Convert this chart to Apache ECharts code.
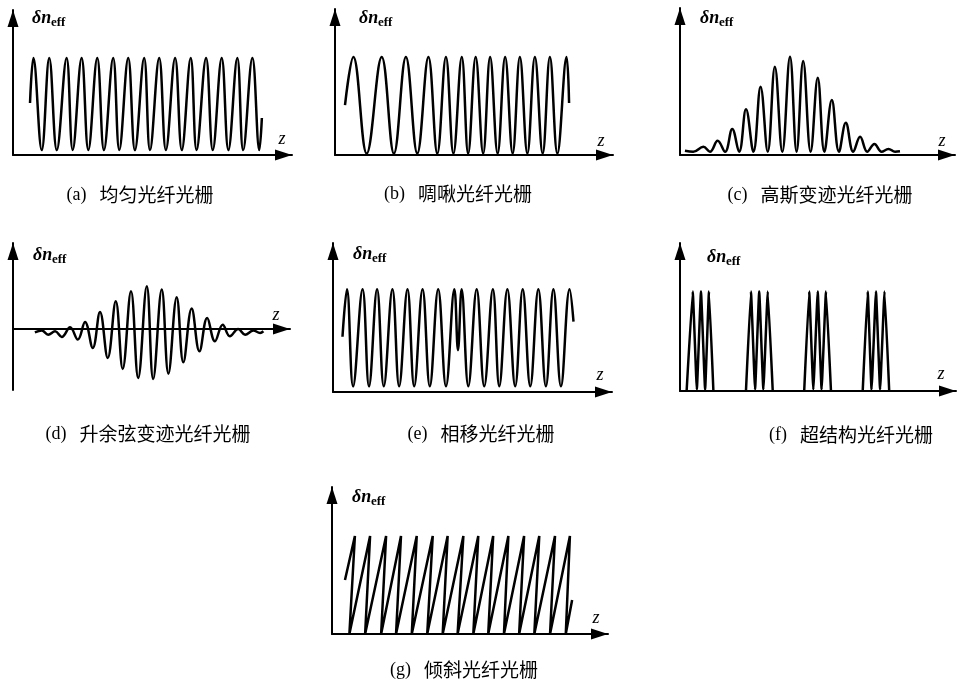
<!DOCTYPE html>
<html><head><meta charset="utf-8">
<script src="https://cdn.jsdelivr.net/npm/echarts@6/dist/echarts.min.js"></script>
<style>html,body{margin:0;padding:0;background:#fff}#c{width:958px;height:682px}</style>
</head><body><div id="c"></div>
<script>
// ---- data (z in % of axis length, δn in % of axis height) ----
const uniformZ = [6.1,7.3,10.3,13.0,15.7,19.2,21.4,24.6,27.0,30.2,32.6,35.9,38.1,41.3,43.7,47.0,49.1,52.4,54.8,58.1,60.5,63.7,65.8,69.2,71.6,74.8,77.2,80.4,82.5,85.8,88.3,89.2];
const uniformN = [35.9,66.9,3.4,66.9,3.4,66.9,3.4,66.9,3.4,66.9,3.4,66.9,3.4,66.9,3.4,66.9,3.4,66.9,3.4,66.9,3.4,66.9,3.4,66.9,3.4,66.9,3.4,66.9,3.4,66.9,3.4,25.5];

const chirpZ = [3.6,6.6,11.4,16.8,21.2,25.5,29.6,33.6,36.8,39.9,42.6,45.6,47.9,50.6,53.3,55.8,58.5,61.2,63.9,66.5,69.2,71.9,74.7,77.3,80.0,83.3,84.2];
const chirpN = [34.2,67.1,1,67.1,1,67.1,1,67.1,1,67.1,1,67.1,1,67.1,1,67.1,1,67.1,1,67.1,1,67.1,1,67.1,1,67.1,35.6];

const gaussZ = [1.8,4.8,8.5,10.9,13.7,16.4,19.0,21.5,24.0,26.7,29.3,31.9,34.5,37.2,40.0,42.4,44.8,47.5,50.1,52.5,55.2,57.8,60.3,63.0,65.5,68.1,70.7,73.3,75.8,78.2,80.0];
const gaussN = [2.9,2.2,5.6,2.2,9.7,2.2,17.7,2.2,31.1,2.2,46.5,2.2,60.1,2.2,66.9,2.2,63.9,2.2,52.6,2.2,37.4,2.2,22.0,2.2,12.4,2.2,7.5,2.2,4.1,2.2,2.5];

const cosZ = [7.9,10.4,12.7,15.2,17.6,20.6,23.4,26.0,28.8,31.4,34.2,37.1,39.6,42.6,45.2,48.3,50.6,53.7,56.1,59.1,61.5,64.5,67.3,70.1,72.9,75.7,78.3,81.3,83.8,86.8,89.2,90.4];
const cosN = [-3.9,-1.9,-6.6,-2.7,-9.3,1.9,-12.4,8.1,-22.1,19.8,-33.7,32.2,-46.5,43.8,-57.0,49.6,-58.2,45.8,-52.0,36.8,-38.8,23.7,-26.0,12.8,-14.3,5.0,-8.5,0,-6.6,-1.9,-4.7,-2.7];

const phaseZ = [3.4,5.0,7.2,10.6,12.9,15.8,18.2,21.3,23.7,26.7,29.1,32.1,34.7,37.7,40.5,43.5,44.8,46.1,48.5,51.5,54.2,57.3,59.6,62.5,65.3,68.0,70.7,73.6,76.3,79.0,81.7,84.8,86.2];
const phaseN = [37.1,69,3.8,69,3.8,69,3.8,69,3.8,69,3.8,69,3.8,69,3.8,69,28.1,69,3.8,69,3.8,69,3.8,69,3.8,69,3.8,69,3.8,69,3.8,69,47.2];

// null = gap between sampled sections
const superZ = [2.4,4.6,6.1,7.6,9.1,10.5,12.1,null,23.9,25.7,27.2,28.7,30.2,31.8,33.6,null,45.0,46.8,48.3,49.9,51.3,52.9,54.7,null,66.2,68.0,69.4,71.0,72.5,74.1,75.8];
const superN = [0,67.2,1,67.2,1,67.2,0,null,0,67.2,1,67.2,1,67.2,0,null,0,67.2,1,67.2,1,67.2,0,null,0,67.2,1,67.2,1,67.2,0];

const tiltZ = [4.7,8.3,6.3,13.8,12.0,19.6,17.8,25.0,23.2,30.7,28.9,36.5,34.5,41.9,40.1,47.6,45.5,53.0,51.2,58.4,56.6,63.9,62.3,69.6,67.8,75.1,73.3,80.8,79.0,86.2,84.7,87.0];
const tiltN = [36.7,66.7,0,66.7,0,66.7,0,66.7,0,66.7,0,66.7,0,66.7,0,66.7,0,66.7,0,66.7,0,66.7,0,66.7,0,66.7,0,66.7,0,66.7,0,23.1];

const captionTags = ['(a)','(b)','(c)','(d)','(e)','(f)','(g)'];
const captionTexts = ['均匀光纤光栅','啁啾光纤光栅','高斯变迹光纤光栅','升余弦变迹光纤光栅','相移光纤光栅','超结构光纤光栅','倾斜光纤光栅'];

// ---- layout ----
const panels = [
  {g:[13,10,279,145],  ymin:0, ymax:100, z:uniformZ, n:uniformN, smooth:0.4, cap:[140,195], lab:[32,27], zl:[282,139]},
  {g:[335,9,278,146],  ymin:0, ymax:100, z:chirpZ,   n:chirpN,   smooth:0.4, cap:[458,194], lab:[359,27], zl:[601,141]},
  {g:[680,8,275,147],  ymin:0, ymax:100, z:gaussZ,   n:gaussN,   smooth:0.4, cap:[820,195], lab:[700,27], zl:[942,141]},
  {g:[13,243,277,147], ymin:-71, ymax:100, z:cosZ,   n:cosN,     smooth:0.4, cap:[148,434], lab:[33,264], zl:[276,315]},
  {g:[333,243,279,149],ymin:0, ymax:100, z:phaseZ,   n:phaseN,   smooth:0.4, cap:[481,434], lab:[353,263], zl:[600,375]},
  {g:[680,243,276,148],ymin:0, ymax:100, z:superZ,   n:superN,   smooth:0.1, cap:[851,435], lab:[707,266], zl:[941,374]},
  {g:[332,487,276,147],ymin:0, ymax:100, z:tiltZ,    n:tiltN,    smooth:0.2, cap:[464,670], lab:[352,506], zl:[596,618]}
];

const AW = 11, AL = 17;
const axisLine = {show:true, onZero:true, symbol:['none','triangle'], symbolSize:[AW,AL], symbolOffset:[0,-AL/2],
  lineStyle:{color:'#000', width:2}};
const grid = [], xAxis = [], yAxis = [], series = [], graphic = [];
panels.forEach((p, i) => {
  grid.push({left:p.g[0], top:p.g[1], width:p.g[2], height:p.g[3], containLabel:false});
  xAxis.push({gridIndex:i, type:'value', min:0, max:100, axisLine:axisLine,
    axisTick:{show:false}, axisLabel:{show:false}, splitLine:{show:false}});
  yAxis.push({gridIndex:i, type:'value', min:p.ymin, max:p.ymax, axisLine:Object.assign({}, axisLine, {onZero:false}),
    axisTick:{show:false}, axisLabel:{show:false}, splitLine:{show:false}});
  series.push({type:'line', xAxisIndex:i, yAxisIndex:i,
    data:p.z.map((v, k) => (v === null ? '-' : [v, p.n[k]])),
    connectNulls:false, symbol:'none', smooth:p.smooth, clip:false, silent:true,
    lineStyle:{color:'#000', width:2.5}});
  graphic.push({type:'text', x:p.lab[0], y:p.lab[1], style:{text:'δn', font:'italic bold 18px "Liberation Serif"', fill:'#000', verticalAlign:'bottom'}});
  graphic.push({type:'text', x:p.lab[0]+19, y:p.lab[1]+2, style:{text:'eff', font:'bold 13px "Liberation Serif"', fill:'#000', verticalAlign:'bottom'}});
  graphic.push({type:'text', x:p.zl[0], y:p.zl[1], style:{text:'z', font:'italic 18px "Liberation Serif"', fill:'#000', align:'center', verticalAlign:'middle'}});
  graphic.push({type:'text', x:p.cap[0], y:p.cap[1], style:{
    text:'{t|' + captionTags[i] + '}{s| }{c|' + captionTexts[i] + '}', align:'center', verticalAlign:'middle',
    rich:{t:{font:'18px "Liberation Serif"', fill:'#000'}, s:{font:'18px "Liberation Serif"', width:13}, c:{font:'19px "Noto Sans CJK SC"', fill:'#000'}}}});
});

const chart = echarts.init(document.getElementById('c'), null, {renderer:'canvas'});
chart.setOption({backgroundColor:'#fff', animation:false, grid, xAxis, yAxis, series, graphic});
</script></body></html>
